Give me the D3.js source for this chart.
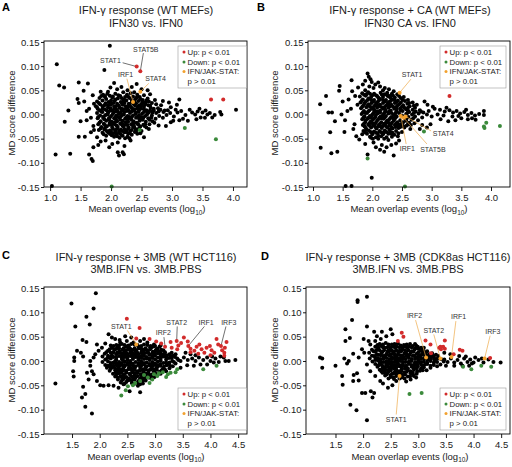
<!DOCTYPE html>
<html><head><meta charset="utf-8">
<script src="https://cdn.jsdelivr.net/npm/d3@7"></script>
<style>body{margin:0;background:#fff}svg{display:block}</style>
</head><body>
<svg id="c" width="512" height="467"></svg>
<script>
// ---------- DATA ----------
const yTicks = [-0.15,-0.10,-0.05,0.00,0.05,0.10,0.15];
const xTicksAB = [1.0,1.5,2.0,2.5,3.0,3.5,4.0];
const xTicksCD = [1.5,2.0,2.5,3.0,3.5,4.0,4.5];
const legendLabels = ["Up: p < 0.01","Down: p < 0.01","IFN/JAK-STAT:","p > 0.01"];
const titlesA = ["IFN-\u03b3 response (WT MEFs)","IFN30 vs. IFN0"];
const titlesB = ["IFN-\u03b3 response + CA (WT MEFs)","IFN30 CA vs. IFN0"];
const titlesC = ["IFN-\u03b3 response + 3MB (WT HCT116)","3MB.IFN vs. 3MB.PBS"];
const titlesD = ["IFN-\u03b3 response + 3MB (CDK8as HCT116)","3MB.IFN vs. 3MB.PBS"];

// Panel A
const blackA = [[1.98,.142],[1.11,.104],[1.89,.092],[1.15,.060],[1.23,.056],[1.47,.066],[1.62,.064],[1.55,.049],[1.45,.032],[1.47,.024],[1.30,.008],[1.24,-.015],[1.09,-.083],[1.33,-.081],[1.47,-.046],[1.57,-.046],[1.71,-.068],[1.64,-.083],[1.68,-.092],[1.70,-.096],[2.11,-.078],[2.19,-.078],[2.21,-.082],[2.13,-.085],[1.03,-.148],
[1.56,.027],[1.70,.040],[1.72,.022],[1.75,.017],[1.78,.012],[1.64,.012],[1.60,.007],[1.67,-.007],[1.60,-.012],[1.50,-.014],[1.71,-.024],[1.67,-.037],[1.72,-.032],[1.77,-.047],[1.83,-.056],[1.79,-.063],[1.91,-.054],[1.97,-.068],[2.02,-.061],[2.11,-.058],[2.22,-.065],[2.32,-.054],[2.30,-.049],[2.43,-.040],[2.54,-.047],
[2.05,.065],[2.17,.057],[1.99,.056],[2.27,.050],[2.34,.057],[2.42,.063],[2.60,.050],[2.64,.042],[1.83,.047],[1.90,.038],[2.10,.052],[2.20,.046],[1.95,.047],[2.50,.052],[2.38,.046],
[3.12,.031],[2.82,.019],[2.98,.015],[3.06,.010],[3.15,.007],[4.05,.010],[3.79,.005],[3.81,0],[3.58,0],[3.54,-.007],[3.29,.010],[3.47,-.006],[3.38,0],[3.22,-.001],[3.33,.004],[3.42,.006],[3.50,.004],[3.62,.003],[3.70,-.001],[3.66,-.006],[3.12,-.012],[3.02,-.013],[2.98,-.016],[3.18,-.009],[3.26,-.013],[2.90,-.024],[2.78,-.023],[3.40,-.010],[3.08,.020],[2.95,.025],[2.88,.008],[3.45,.012],[3.55,.008],[2.72,.030],[2.85,.028],
[1.87,.041],[1.98,.039],[2.07,.043],[2.15,.038],[2.26,.041],[2.36,.037],[2.54,.040],[2.47,.036],
[1.81,.034],[1.92,.032],[2.02,.035],[2.11,.033],[2.21,.031],[2.30,.034],[2.40,.032],[2.52,.030],[2.60,.033],
[1.77,.027],[1.86,.029],[1.96,.026],[2.06,.028],[2.16,.026],[2.25,.029],[2.34,.025],[2.45,.028],[2.57,.025],[2.67,.024],
[1.82,.021],[1.91,.023],[2.00,.020],[2.10,.022],[2.19,.020],[2.29,.022],[2.39,.019],[2.50,.021],[2.61,.019],[2.74,.021],
[1.77,.015],[1.86,.017],[1.95,.015],[2.05,.016],[2.14,.014],[2.24,.017],[2.33,.015],[2.43,.013],[2.54,.016],[2.65,.014],[2.77,.013],
[1.81,.009],[1.90,.011],[1.99,.008],[2.09,.010],[2.18,.009],[2.27,.011],[2.37,.008],[2.47,.010],[2.58,.009],[2.70,.008],[2.81,.010],[2.93,.009],
[1.77,.003],[1.86,.005],[1.95,.003],[2.04,.004],[2.13,.002],[2.22,.005],[2.31,.003],[2.41,.004],[2.51,.002],[2.62,.004],[2.74,.003],[2.86,.005],[2.97,.003],[3.09,.004],
[1.82,-.002],[1.91,-.001],[2.00,-.003],[2.09,-.002],[2.18,-.001],[2.27,-.003],[2.36,-.002],[2.46,-.001],[2.56,-.003],[2.67,-.002],[2.79,-.003],[2.91,-.001],[3.03,-.004],
[1.78,-.008],[1.87,-.007],[1.96,-.009],[2.05,-.008],[2.14,-.007],[2.23,-.009],[2.32,-.008],[2.41,-.007],[2.51,-.009],[2.61,-.008],[2.73,-.009],[2.85,-.007],
[1.83,-.014],[1.92,-.013],[2.01,-.015],[2.10,-.014],[2.19,-.013],[2.28,-.015],[2.37,-.014],[2.47,-.013],[2.57,-.015],[2.68,-.014],
[1.79,-.020],[1.88,-.019],[1.97,-.021],[2.06,-.020],[2.15,-.019],[2.24,-.021],[2.33,-.020],[2.43,-.019],[2.53,-.021],[2.63,-.020],
[1.84,-.026],[1.93,-.025],[2.02,-.027],[2.11,-.026],[2.20,-.025],[2.29,-.027],[2.38,-.026],[2.48,-.025],[2.58,-.027],
[1.80,-.032],[1.89,-.031],[1.98,-.033],[2.07,-.032],[2.16,-.031],[2.25,-.033],[2.34,-.032],[2.44,-.031],
[1.86,-.038],[1.95,-.037],[2.04,-.039],[2.13,-.038],[2.22,-.037],[2.31,-.039],[2.39,-.036],
[1.92,-.044],[2.01,-.043],[2.10,-.045],[2.19,-.044],[2.27,-.046],
[1.95,.019],[2.04,.024],[2.13,.018],[2.22,.024],[2.31,.018],[2.41,.023],[2.49,.017],[1.99,.013],[2.08,.006],[2.17,.012],[2.26,.007],[2.35,.012],[2.45,.006],[2.54,.011],[1.94,.000],[2.03,.001],[2.12,-.005],[2.21,.000],[2.30,-.005],[2.40,.001],[2.50,-.005],[2.59,.000],[1.97,-.011],[2.06,-.016],[2.15,-.011],[2.24,-.016],[2.33,-.011],[2.42,-.017],[2.52,-.011],[2.01,-.022],[2.10,-.029],[2.19,-.023],[2.28,-.029],[2.37,-.023],[2.46,-.029],[2.07,.031],[2.17,.034],[2.34,.030],[2.43,.041],
[1.90,.036],[2.00,.029],[2.12,.040],[2.20,.028],[2.28,.037],[2.38,.027],[2.48,.032],[2.56,.021],[1.86,.012],[1.96,.006],[2.06,.012],[2.16,.004],[2.25,.013],[2.34,.006],[2.44,.016],[2.54,.005],[2.64,.009],[1.88,-.004],[1.98,-.017],[2.08,-.010],[2.18,-.018],[2.27,-.010],[2.36,-.018],[2.46,-.009],[2.56,-.020],[1.90,-.028],[2.00,-.036],[2.09,-.041],[2.18,-.034],[2.28,-.040],[2.40,-.030],[2.50,-.034],[2.66,-.006],[2.78,.006],[2.62,.027]];
const blackA2 = [[1.84,.038],[1.94,.043],[2.03,.037],[2.23,.036],[2.32,.044],[2.42,.035],[2.51,.026],[2.58,.029],[1.80,.024],[1.89,.019],[1.99,.024],[2.08,.017],[2.18,.023],[2.27,.016],[2.37,.022],[2.46,.019],[2.55,.024],[2.64,.018],[2.70,.012],[1.84,.006],[1.93,.008],[2.02,.009],[2.11,.007],[2.20,.011],[2.29,.009],[2.39,.011],[2.49,.013],[2.59,.006],[2.68,.004],[1.79,-.005],[1.89,-.010],[1.98,-.006],[2.07,-.005],[2.16,-.004],[2.25,-.006],[2.34,-.005],[2.44,-.004],[2.53,-.006],[2.63,-.011],[2.71,-.017],[1.81,-.017],[1.90,-.022],[2.00,-.019],[2.09,-.023],[2.18,-.021],[2.27,-.022],[2.36,-.026],[2.45,-.021],[2.55,-.024],[2.62,-.030],[1.83,-.029],[1.93,-.034],[2.03,-.030],[2.13,-.034],[2.22,-.030],[2.31,-.034],[2.41,-.034],[2.48,-.039],[1.88,-.041],[1.98,-.040],[2.07,-.036],[2.16,-.041],[2.25,-.036],[2.34,-.042],[2.05,-.046],[2.14,-.048],[2.23,-.049]];
const upA = [{g:"STAT1",x:2.42,y:.099},{g:"STAT5B",x:2.48,y:.0895},{g:"",x:3.64,y:.031},{g:"",x:3.84,y:.031}];
const downA = [[2.01,-.149],[2.47,-.032],[3.21,-.028],[3.72,-.051]];
const ifnA = [{g:"IRF1",x:2.36,y:.026},{g:"STAT4",x:2.48,y:.047}];

// Panel B
const blackB = [[1.92,.085],[1.94,.078],[1.97,.073],[1.99,.067],[1.65,.071],[1.45,.059],[1.44,.049],[1.22,.038],[1.12,.021],[1.26,.004],[1.32,.004],[1.37,-.014],[1.29,-.037],[1.13,-.069],[1.31,-.080],[1.41,-.077],[1.92,-.083],[1.99,-.131],[1.55,-.148],[1.65,-.148],[2.13,-.073],[2.20,-.077],[2.36,-.085],
[1.50,.027],[1.60,.031],[1.54,-.012],[1.53,-.036],[1.58,.007],[1.48,.000],[1.64,.012],[1.71,.038],[1.66,.048],[1.76,.056],[1.84,.062],[1.73,-.045],[1.78,-.052],[1.83,-.041],[1.88,-.061],[1.68,-.030],[1.70,-.020],[1.75,.020],[1.88,.070],
[2.02,-.058],[2.06,-.068],[2.16,-.063],[2.24,-.068],[2.32,-.063],[2.40,-.060],[2.27,-.053],[2.45,-.054],[2.10,-.050],[1.98,-.048],
[2.88,.027],[2.93,.020],[3.05,.012],[3.14,.010],[3.22,.006],[3.30,.009],[3.36,.004],[3.42,.007],[3.48,.002],[3.55,.005],[3.61,-.001],[3.67,.003],[3.73,-.002],[3.88,.007],[3.88,-.001],[3.74,-.011],[3.61,-.010],[3.50,-.008],[3.40,-.012],[3.28,-.014],[3.15,-.010],[3.20,-.002],[3.10,.000],[3.00,-.004],[2.95,.007],[3.02,.016],[2.84,-.022],[2.92,-.027],[2.98,-.020],[2.80,-.030],[3.35,-.004],[3.58,.010],[3.25,.014],[3.45,-.003],[3.80,.001],[3.68,-.008],
[2.05,.062],[2.13,.058],[2.21,.055],[2.28,.052],[2.36,.048],[2.10,.066],[2.18,.050],[2.02,.055],[1.95,.058],[1.88,.050],[2.25,.045],[2.42,.042],[2.53,.036],[2.60,.030],[2.68,.025],[2.75,.020],[2.32,.040],
[1.83,.044],[1.93,.046],[2.03,.043],[2.14,.045],[2.24,.041],[2.33,.043],
[1.79,.037],[1.89,.039],[1.98,.036],[2.08,.038],[2.18,.036],[2.28,.038],[2.38,.035],[2.48,.034],
[1.84,.031],[1.94,.033],[2.03,.030],[2.13,.032],[2.23,.030],[2.33,.031],[2.43,.029],[2.55,.028],
[1.80,.025],[1.89,.027],[1.99,.024],[2.09,.026],[2.18,.024],[2.28,.026],[2.38,.024],[2.48,.025],[2.59,.022],
[1.85,.019],[1.94,.021],[2.04,.018],[2.13,.020],[2.23,.018],[2.32,.020],[2.42,.018],[2.52,.019],[2.63,.017],[2.72,.014],
[1.81,.013],[1.90,.015],[1.99,.012],[2.08,.014],[2.18,.012],[2.27,.014],[2.37,.012],[2.47,.013],[2.57,.011],[2.68,.010],[2.80,.009],
[1.86,.007],[1.95,.009],[2.04,.006],[2.13,.008],[2.22,.006],[2.31,.008],[2.41,.006],[2.51,.007],[2.62,.005],[2.73,.006],[2.86,.004],
[1.82,.001],[1.91,.003],[2.00,.000],[2.09,.002],[2.18,.000],[2.27,.002],[2.36,.000],[2.45,.003],[2.57,.001],[2.67,.000],[2.78,.002],[2.92,.000],
[1.87,-.004],[1.96,-.003],[2.05,-.005],[2.14,-.004],[2.23,-.003],[2.32,-.005],[2.41,-.004],[2.61,-.005],[2.72,-.004],[2.84,-.006],
[1.83,-.010],[1.92,-.009],[2.01,-.011],[2.10,-.010],[2.19,-.009],[2.28,-.011],[2.37,-.010],[2.47,-.012],[2.56,-.010],[2.66,-.011],[2.77,-.012],
[1.88,-.016],[1.97,-.015],[2.06,-.017],[2.15,-.016],[2.24,-.015],[2.33,-.017],[2.42,-.016],[2.52,-.016],[2.62,-.017],[2.71,-.018],
[1.84,-.022],[1.93,-.021],[2.02,-.023],[2.11,-.022],[2.20,-.021],[2.29,-.023],[2.38,-.022],[2.48,-.021],[2.58,-.023],
[1.89,-.028],[1.98,-.027],[2.07,-.029],[2.16,-.028],[2.25,-.027],[2.34,-.029],[2.44,-.028],[2.54,-.027],[2.64,-.030],
[1.85,-.034],[1.94,-.033],[2.03,-.035],[2.12,-.034],[2.21,-.033],[2.30,-.035],[2.40,-.034],[2.50,-.036],
[1.91,-.040],[2.00,-.041],[2.09,-.039],[2.18,-.041],[2.27,-.040],[2.37,-.042],
[1.96,-.046],[2.06,-.047],[2.15,-.045],[2.24,-.047],[2.33,-.046],
[1.98,.030],[2.08,.020],[2.18,.030],[2.27,.020],[2.37,.030],[2.03,.010],[2.13,.004],[2.22,.010],[2.32,.003],[2.41,.011],[1.97,-.007],[2.06,-.001],[2.15,-.008],[2.25,-.013],[2.34,-.007],[2.44,-.020],[2.01,-.019],[2.10,-.025],[2.20,-.019],[2.29,-.031],[2.39,-.026],
[1.90,.042],[2.00,.040],[2.10,.035],[2.20,.042],[2.30,.035],[1.87,.023],[1.96,.017],[2.06,.024],[2.16,.015],[2.26,.023],[2.35,.016],[2.45,.021],[2.54,.014],[1.88,.003],[1.98,-.004],[2.08,.006],[2.18,-.005],[2.28,.006],[2.38,-.001],[2.50,-.002],[2.60,.008],[1.89,-.012],[1.99,-.017],[2.08,-.013],[2.18,-.024],[2.27,-.017],[2.36,-.013],[2.47,-.026],[2.57,-.013],[1.90,-.031],[2.00,-.038],[2.10,-.044],[2.20,-.037],[2.32,-.040],[2.44,-.039],[2.65,-.022]];
const blackB2 = [[1.86,.041],[1.96,.043],[2.06,.040],[2.16,.041],[2.26,.038],[2.35,.039],[2.45,.038],[1.82,.028],[1.92,.030],[2.01,.027],[2.11,.029],[2.21,.027],[2.31,.028],[2.41,.026],[2.51,.030],[2.62,.024],[1.83,.016],[1.92,.018],[2.01,.015],[2.11,.017],[2.20,.015],[2.30,.017],[2.40,.015],[2.50,.016],[2.60,.014],[2.70,.018],[1.84,.004],[1.93,.006],[2.02,.003],[2.11,.005],[2.20,.003],[2.30,.005],[2.39,.003],[2.48,.009],[2.59,.003],[2.70,.003],[2.82,.006],[1.85,-.007],[1.94,-.006],[2.03,-.008],[2.12,-.007],[2.21,-.006],[2.30,-.008],[2.39,-.007],[2.58,-.008],[2.69,-.008],[1.86,-.019],[1.95,-.018],[2.04,-.020],[2.13,-.019],[2.22,-.018],[2.31,-.020],[2.40,-.019],[2.50,-.018],[2.60,-.020],[1.87,-.025],[1.96,-.024],[2.05,-.026],[2.14,-.025],[2.23,-.024],[2.32,-.026],[2.42,-.025],[2.52,-.024],[1.88,-.037],[1.97,-.036],[2.06,-.038],[2.15,-.037],[2.24,-.036],[2.34,-.038],[2.43,-.045],[2.01,-.050],[2.20,-.050]];
const upB = [{g:"",x:3.30,y:.038}];
const downB = [[1.92,-.091],[2.55,-.149],[2.87,-.035],[3.88,-.025],[3.89,-.028],[3.92,-.017],[4.15,-.024]];
const ifnB = [{g:"STAT1",x:2.46,y:.045},{g:"IRF1",x:2.48,y:-.003},{g:"STAT5B",x:2.53,y:-.007},{g:"STAT4",x:2.56,y:-.004}];

// Panel C
const blackC = [[1.49,.118],[1.93,.139],[1.89,.108],[1.76,.091],[1.82,.075],[1.56,.071],[1.69,.043],[1.76,.039],[1.59,.021],[1.66,.017],[1.70,.009],[1.54,.007],[1.54,.000],[1.52,-.021],[1.53,-.032],[1.20,-.046],[1.70,-.053],[1.74,-.068],[1.68,-.075],[1.74,-.094],[1.86,-.108],
[1.83,-.010],[1.86,-.021],[1.89,-.027],[1.95,-.041],[2.01,-.050],[2.07,-.051],[2.16,-.050],[1.92,.014],[1.98,.021],[2.04,.027],[2.10,.036],[1.95,.034],[1.89,.007],[1.83,.000],[1.77,-.024],[1.80,-.038],[2.25,-.051],[2.34,-.055],[2.43,-.048],[2.54,-.062],[2.73,-.064],[2.69,-.051],
[2.16,.055],[2.22,.048],[2.28,.045],[2.36,.043],[2.46,.051],[2.57,.048],[2.80,.045],[2.37,.038],[2.49,.041],[2.61,.038],[2.73,.041],[2.86,.038],[2.98,.034],[3.10,.032],
[4.45,.002],[4.27,0],[4.18,.009],[4.09,.005],[4.00,0],[3.94,.007],[3.87,.002],[3.79,.007],[3.73,0],[3.67,.005],[3.59,.002],[3.52,.007],[3.46,0],[3.40,.005],[3.34,-.002],[3.82,-.007],[3.70,-.010],[3.58,-.009],[3.46,-.014],[3.94,-.007],[4.06,-.003],[4.15,-.002],[3.64,.014],[3.55,.017],[3.37,.014],[3.28,.010],[3.73,.012],[4.03,.009],[4.24,.007],[4.33,0],
[2.30,.033],[2.40,.035],[2.52,.032],[2.63,.034],[2.75,.031],[2.86,.033],[2.97,.030],[3.08,.029],
[2.22,.027],[2.33,.029],[2.43,.026],[2.53,.028],[2.63,.026],[2.73,.028],[2.83,.026],[2.93,.027],[3.04,.025],[3.15,.022],
[2.15,.021],[2.26,.023],[2.36,.020],[2.46,.022],[2.56,.020],[2.66,.022],[2.76,.020],[2.86,.021],[2.96,.019],[3.06,.020],[3.18,.018],[3.30,.017],
[2.09,.015],[2.20,.017],[2.30,.014],[2.40,.016],[2.50,.014],[2.60,.016],[2.70,.014],[2.80,.015],[2.90,.013],[3.00,.015],[3.10,.013],[3.21,.012],[3.33,.011],
[2.05,.009],[2.15,.011],[2.25,.008],[2.35,.010],[2.45,.008],[2.55,.010],[2.65,.008],[2.75,.010],[2.85,.008],[2.95,.009],[3.05,.007],[3.15,.009],[3.25,.006],[3.36,.008],
[2.10,.003],[2.20,.005],[2.30,.002],[2.40,.004],[2.50,.002],[2.60,.004],[2.70,.002],[2.80,.004],[2.90,.002],[3.00,.003],[3.10,.001],[3.20,.003],[3.31,.000],[3.42,.002],
[2.05,-.002],[2.15,-.001],[2.25,-.003],[2.35,-.002],[2.45,-.001],[2.55,-.003],[2.65,-.002],[2.75,-.001],[2.85,-.003],[2.95,-.002],[3.05,-.001],[3.15,-.004],[3.26,-.003],[3.37,-.005],
[2.10,-.008],[2.20,-.007],[2.30,-.009],[2.40,-.008],[2.50,-.007],[2.60,-.009],[2.70,-.008],[2.80,-.007],[2.90,-.009],[3.00,-.008],[3.10,-.010],[3.21,-.009],[3.32,-.011],
[2.13,-.014],[2.23,-.013],[2.33,-.015],[2.43,-.014],[2.53,-.013],[2.63,-.015],[2.73,-.014],[2.83,-.013],[2.93,-.015],[3.03,-.014],[3.14,-.016],[3.26,-.015],
[2.18,-.020],[2.28,-.019],[2.38,-.021],[2.48,-.020],[2.58,-.019],[2.68,-.021],[2.78,-.020],[2.88,-.019],[2.98,-.021],[3.08,-.022],[3.20,-.021],
[2.24,-.026],[2.34,-.025],[2.44,-.027],[2.54,-.026],[2.64,-.025],[2.74,-.027],[2.84,-.026],[2.94,-.028],[3.05,-.027],
[2.28,-.032],[2.38,-.031],[2.48,-.033],[2.58,-.032],[2.68,-.031],[2.78,-.033],[2.88,-.034],[2.99,-.033],
[2.33,-.038],[2.43,-.037],[2.53,-.039],[2.63,-.038],[2.73,-.037],[2.83,-.040],
[2.38,-.044],[2.48,-.043],[2.58,-.045],[2.68,-.044],[2.78,-.046],
[2.35,.026],[2.45,.019],[2.55,.025],[2.65,.019],[2.75,.025],[2.85,.017],[2.40,.012],[2.50,.006],[2.60,.012],[2.70,.005],[2.80,.011],[2.90,.005],[3.00,.011],[2.35,-.005],[2.45,-.011],[2.55,.000],[2.65,-.011],[2.75,-.004],[2.85,-.011],[2.95,-.005],[3.05,-.011],[2.38,-.017],[2.48,-.024],[2.58,-.016],[2.68,-.024],[2.78,-.017],[2.88,-.024],[2.98,-.017],[2.43,-.030],[2.53,-.036],[2.63,-.029],[2.73,-.035],[2.83,-.029],[2.93,-.036],
[2.20,.032],[2.28,.024],[2.48,.030],[2.58,.022],[2.70,.030],[2.80,.022],[2.92,.031],[3.02,.023],[2.12,.018],[2.22,.012],[2.32,.018],[2.45,.014],[2.55,.017],[2.65,.013],[2.75,.017],[2.95,.016],[3.10,.017],[3.20,.008],[2.14,.006],[2.28,.000],[2.42,.002],[2.60,-.005],[2.70,.008],[2.90,-.006],[3.10,.005],[3.22,-.006],[2.18,-.011],[2.28,-.016],[2.52,-.017],[2.62,-.018],[2.72,-.020],[2.92,-.018],[3.12,-.019],[2.30,-.028],[2.40,-.034],[2.60,-.035],[2.80,-.036],[2.90,-.030],[3.00,-.025],[2.50,-.040],[2.70,-.041]];
const blackC2 = [[2.25,.031],[2.35,.032],[2.45,.033],[2.57,.035],[2.68,.033],[2.80,.034],[2.91,.028],[3.00,.031],[2.18,.024],[2.31,.026],[2.41,.023],[2.51,.024],[2.61,.023],[2.71,.026],[2.81,.024],[2.91,.024],[3.01,.021],[3.11,.023],[2.25,.018],[2.35,.017],[2.48,.017],[2.58,.013],[2.68,.017],[2.78,.012],[2.88,.017],[2.98,.012],[3.05,.016],[3.15,.014],[3.26,.014],[2.20,.008],[2.30,.007],[2.40,.007],[2.50,.010],[2.60,.007],[2.75,.006],[2.85,.005],[2.95,.006],[3.10,.009],[3.20,.011],[3.30,.006],[2.20,-.004],[2.30,-.005],[2.40,-.004],[2.50,-.004],[2.70,-.005],[2.80,-.004],[3.00,-.005],[3.10,-.006],[3.20,-.003],[2.15,-.010],[2.25,-.010],[2.35,-.011],[2.45,-.008],[2.55,-.010],[2.75,-.010],[2.95,-.011],[3.05,-.008],[3.16,-.012],[3.27,-.010],[2.20,-.016],[2.33,-.019],[2.43,-.019],[2.63,-.018],[2.83,-.018],[3.03,-.018],[3.18,-.018],[2.29,-.023],[2.39,-.024],[2.59,-.023],[2.79,-.023],[2.99,-.023],[3.10,-.026],[2.33,-.034],[2.45,-.034],[2.55,-.029],[2.65,-.034],[2.75,-.030],[2.85,-.033],[2.95,-.031],[2.40,-.040],[2.58,-.040],[2.78,-.040],[2.45,-.047],[2.63,-.047],[2.73,-.048]];
const upC = [{g:"",x:2.49,y:.087},{g:"",x:2.72,y:.068},{g:"",x:2.66,y:.046},{g:"",x:2.90,y:.045},{g:"",x:3.02,y:.040},{g:"",x:3.11,y:.036},{g:"IRF2",x:3.18,y:.029},{g:"",x:3.28,y:.039},{g:"",x:3.30,y:.027},{g:"STAT2",x:3.39,y:.041},{g:"",x:3.42,y:.032},{g:"",x:3.47,y:.037},{g:"",x:3.40,y:.024},{g:"",x:3.52,y:.048},{g:"IRF1",x:3.60,y:.031},{g:"",x:3.59,y:.040},{g:"",x:3.64,y:.025},{g:"",x:3.71,y:.021},{g:"",x:3.75,y:.029},{g:"",x:3.80,y:.034},{g:"",x:3.84,y:.024},{g:"",x:3.89,y:.017},{g:"",x:3.93,y:.027},{g:"",x:3.99,y:.031},{g:"",x:4.02,y:.022},{g:"",x:4.07,y:.017},{g:"",x:4.11,y:.045},{g:"",x:4.14,y:.034},{g:"IRF3",x:4.19,y:.031},{g:"",x:4.21,y:.022},{g:"",x:4.25,y:.017},{g:"",x:4.29,y:.039},{g:"",x:4.26,y:.027},{g:"",x:4.25,y:.011},{g:"",x:3.78,y:.015},{g:"",x:4.00,y:.012},{g:"",x:3.64,y:.018}];
const downC = [[2.39,-.071],[2.51,-.052],[2.47,-.060],[2.64,-.045],[2.73,-.041],[2.80,-.029],[2.87,-.034],[2.90,-.045],[2.98,-.027],[3.04,-.031],[3.07,-.025],[3.14,-.023],[3.23,-.027],[3.28,-.024],[3.37,-.023],[3.40,-.017],[3.87,-.017],[4.11,-.010],[2.60,-.050],[2.95,-.038],[3.20,-.033]];
const ifnC = [{g:"STAT1",x:2.66,y:.034}];

// Panel D
const blackD = [[1.90,.125],[1.90,.121],[2.07,.132],[1.80,.084],[1.68,.065],[1.76,.047],[1.68,.041],[2.07,.071],[2.20,.060],[2.25,.051],[1.22,.007],[1.26,.005],[1.26,-.014],[1.50,-.010],[1.66,.005],[1.74,.000],[1.82,.015],[1.62,-.031],[1.63,-.049],[1.98,-.066],[2.04,-.066],[2.14,-.062],[2.20,-.066],[2.17,-.075],[1.77,-.090],[1.88,-.101],[2.07,-.122],
[1.83,-.029],[1.82,-.041],[1.89,-.025],[1.92,-.040],[1.71,-.005],[1.98,.024],[2.02,.017],[1.92,.007],[2.07,-.007],[2.13,-.021],[2.22,-.031],[2.31,-.041],[2.36,-.046],[2.45,-.055],[2.53,-.050],[2.13,.034],[2.22,.041],[2.32,.045],[2.42,.051],[2.50,.065],[2.53,.055],[2.34,.060],[2.01,.045],[2.10,.041],
[4.49,-.003],[4.36,-.002],[4.27,.003],[4.18,-.003],[4.09,.002],[4.00,-.003],[3.94,.003],[3.89,-.002],[3.83,.005],[3.77,-.005],[3.71,.002],[3.65,-.003],[3.59,.005],[3.53,-.002],[3.47,.003],[3.74,.010],[3.86,.009],[4.03,.007],[4.15,.005],[3.65,-.010],[3.50,-.010],[3.92,-.010],[3.97,-.005],[3.80,-.010],[3.58,.014],[3.47,.017],
[2.30,.035],[2.41,.037],[2.52,.034],[2.63,.036],[2.74,.033],[2.85,.035],[2.96,.032],
[2.22,.029],[2.33,.031],[2.44,.028],[2.55,.030],[2.66,.028],[2.77,.030],[2.88,.028],[2.99,.029],[3.10,.027],
[2.16,.023],[2.27,.025],[2.38,.022],[2.49,.024],[2.60,.022],[2.71,.024],[2.82,.022],[2.93,.023],[3.04,.021],[3.16,.020],
[2.11,.017],[2.22,.019],[2.33,.016],[2.44,.018],[2.54,.016],[2.64,.018],[2.75,.016],[2.86,.017],[2.97,.015],[3.08,.016],[3.20,.014],[3.32,.013],
[2.16,.011],[2.27,.013],[2.37,.010],[2.47,.012],[2.58,.010],[2.68,.012],[2.79,.010],[2.90,.011],[3.01,.009],[3.12,.011],[3.24,.009],[3.36,.010],
[2.12,.005],[2.22,.007],[2.32,.004],[2.42,.006],[2.52,.004],[2.62,.006],[2.72,.004],[2.83,.006],[2.94,.004],[3.05,.005],[3.17,.003],[3.29,.005],[3.41,.004],
[2.17,-.001],[2.27,.001],[2.37,-.002],[2.47,.000],[2.57,-.002],[2.67,.000],[2.77,-.002],[2.88,.000],[2.99,-.002],[3.10,-.001],[3.22,.000],[3.34,-.002],[3.46,-.001],
[2.22,-.006],[2.32,-.005],[2.42,-.007],[2.52,-.006],[2.62,-.005],[2.72,-.007],[2.83,-.006],[2.94,-.005],[3.05,-.007],[3.16,-.006],[3.28,-.008],[3.40,-.007],
[2.26,-.012],[2.36,-.011],[2.46,-.013],[2.56,-.012],[2.66,-.011],[2.77,-.013],[2.88,-.012],[2.99,-.011],[3.10,-.013],[3.22,-.014],
[2.30,-.018],[2.40,-.017],[2.50,-.019],[2.60,-.018],[2.70,-.017],[2.81,-.019],[2.92,-.018],[3.03,-.020],[3.15,-.019],
[2.35,-.024],[2.45,-.023],[2.55,-.025],[2.65,-.024],[2.75,-.023],[2.86,-.025],[2.97,-.026],
[2.40,-.030],[2.50,-.029],[2.60,-.031],[2.71,-.030],[2.81,-.032],[2.92,-.031],
[2.46,-.036],[2.56,-.037],[2.75,-.036],[2.86,-.038],
[2.36,.028],[2.47,.020],[2.58,.027],[2.69,.020],[2.80,.027],[2.91,.019],[2.42,.014],[2.52,.008],[2.63,.014],[2.73,.008],[2.84,.013],[2.95,.007],[3.06,.013],[2.42,-.003],[2.52,-.009],[2.62,.002],[2.72,-.009],[2.83,-.003],[2.93,-.009],[3.04,-.003],[2.45,-.020],[2.55,-.015],[2.65,-.021],[2.76,-.015],[2.86,-.021],[2.97,-.015],
[2.26,.033],[2.36,.034],[2.58,.032],[2.68,.032],[2.90,.031],[3.00,.025],[2.19,.020],[2.30,.022],[2.52,.022],[2.76,.022],[3.10,.020],[2.20,.010],[2.32,.012],[2.57,.014],[2.68,.006],[2.79,.014],[3.00,.013],[3.20,.008],[2.22,.002],[2.32,-.001],[2.47,-.005],[2.57,.006],[2.77,.004],[2.88,-.008],[3.00,.002],[3.15,.004],[3.30,.001],[2.28,-.009],[2.40,-.013],[2.60,-.009],[2.70,-.014],[2.92,-.013],[3.08,-.010],[2.33,-.021],[2.40,-.025],[2.60,-.026],[2.70,-.027],[2.90,-.024],[2.50,-.033],[2.66,-.036],[2.96,-.034]];
const blackD2 = [[2.35,.032],[2.46,.034],[2.57,.035],[2.79,.034],[2.94,.035],[3.05,.027],[2.28,.027],[2.39,.027],[2.50,.028],[2.61,.029],[2.72,.028],[2.83,.029],[2.95,.026],[3.08,.023],[2.24,.022],[2.35,.019],[2.45,.021],[2.56,.019],[2.66,.021],[2.78,.019],[2.88,.020],[3.00,.018],[3.13,.017],[3.25,.016],[2.25,.014],[2.40,.010],[2.50,.014],[2.61,.010],[2.72,.011],[2.82,.009],[2.93,.011],[3.04,.010],[3.16,.012],[3.28,.010],[2.27,.006],[2.37,.005],[2.47,.004],[2.58,.003],[2.67,.004],[2.88,.004],[2.99,.006],[3.10,.005],[3.23,.004],[3.35,.005],[2.30,-.004],[2.42,-.001],[2.52,-.002],[2.62,-.003],[2.72,-.002],[2.83,-.001],[2.94,-.003],[3.05,-.002],[3.16,-.003],[3.28,-.003],[2.34,-.009],[2.45,-.010],[2.56,-.008],[2.66,-.008],[2.78,-.010],[2.98,-.007],[3.12,-.007],[3.22,-.010],[3.34,-.011],[2.35,-.015],[2.50,-.014],[2.60,-.013],[2.81,-.015],[2.92,-.015],[3.05,-.015],[2.38,-.021],[2.48,-.020],[2.58,-.021],[2.69,-.021],[2.79,-.022],[2.98,-.021],[3.08,-.019],[2.43,-.027],[2.53,-.026],[2.63,-.028],[2.76,-.028],[2.90,-.028],[2.55,-.034],[2.70,-.034],[2.85,-.032],[2.60,-.041],[2.78,-.042]];
const upD = [{g:"",x:2.70,y:.058},{g:"",x:2.73,y:.050},{g:"",x:2.63,y:.041},{g:"",x:3.13,y:.042},{g:"",x:3.22,y:.034},{g:"",x:3.23,y:.016},{g:"",x:3.38,y:.027},{g:"",x:3.41,y:.024},{g:"",x:3.40,y:.029},{g:"",x:3.45,y:.029},{g:"",x:3.48,y:.042},{g:"",x:3.48,y:.025},{g:"",x:3.64,y:.014},{g:"",x:3.75,y:.023},{g:"",x:3.80,y:.021},{g:"",x:4.30,y:.006}];
const downD = [[2.84,-.068],[3.06,-.066],[3.81,-.012],[3.96,-.017],[4.14,-.010],[4.32,-.012]];
const ifnD = [{g:"IRF2",x:3.14,y:.007},{g:"STAT2",x:3.40,y:.005},{g:"IRF1",x:3.60,y:.008},{g:"IRF3",x:4.20,y:.005},{g:"STAT1",x:2.66,y:-.031}];

// ---------- LAYOUT (positions / styles, not data) ----------
const FONT = '"Liberation Sans", Arial, Helvetica, sans-serif';
const COL = {black:"#000", up:"#d22b2b", down:"#3b8a3b", ifn:"#f2a12e", dark:"#333"};
const annA = [{g:"STAT5B",tx:2.57,ty:.130,a:"middle",lx:2.53,ly:.127,c:"dark"},{g:"STAT1",tx:2.16,ty:.106,a:"end",lx:2.19,ly:.107,c:"dark"},{g:"IRF1",tx:2.24,ty:.078,a:"middle",lx:2.26,ly:.074,c:"ifn"},{g:"STAT4",tx:2.73,ty:.0687,a:"middle",lx:2.62,ly:.0645,c:"ifn"}];
const annB = [{g:"STAT1",tx:2.67,ty:.0776,a:"middle",lx:2.65,ly:.073,c:"ifn"},{g:"STAT4",tx:3.02,ty:-.0445,a:"start",lx:2.99,ly:-.034,c:"ifn"},{g:"IRF1",tx:2.59,ty:-.0755,a:"middle",lx:2.57,ly:-.061,c:"ifn"},{g:"STAT5B",tx:3.02,ty:-.0776,a:"middle",lx:2.92,ly:-.061,c:"ifn"}];
const annC = [{g:"STAT1",tx:2.39,ty:.0658,a:"middle",lx:2.50,ly:.0627,c:"ifn"},{g:"IRF2",tx:3.15,ty:.0534,a:"middle",lx:3.16,ly:.049,c:"dark"},{g:"STAT2",tx:3.39,ty:.0746,a:"middle",lx:3.40,ly:.071,c:"dark"},{g:"IRF1",tx:3.92,ty:.0746,a:"middle",lx:3.89,ly:.071,c:"dark"},{g:"IRF3",tx:4.33,ty:.0746,a:"middle",lx:4.28,ly:.071,c:"dark"}];
const annD = [{g:"IRF2",tx:2.93,ty:.0884,a:"middle",lx:2.95,ly:.084,c:"ifn"},{g:"STAT2",tx:3.28,ty:.0582,a:"middle",lx:3.28,ly:.0545,c:"ifn"},{g:"IRF1",tx:3.73,ty:.0863,a:"middle",lx:3.68,ly:.082,c:"ifn"},{g:"IRF3",tx:4.35,ty:.0561,a:"middle",lx:4.30,ly:.052,c:"ifn"},{g:"STAT1",tx:2.60,ty:-.125,a:"middle",lx:2.60,ly:-.110,c:"ifn"}];

const panels = [
 {letter:"A",titles:titlesA,black:blackA.concat(blackA2),up:upA,down:downA,ifn:ifnA,ann:annA,xTicks:xTicksAB,
  L:44,R:247,T:41,B:187,xDom:[0.90,4.23],tX:146,tY:[14,27],let:[2,11],yl:[15,113],xl:[147,212],leg:[178,46,68.5,42]},
 {letter:"B",titles:titlesB,black:blackB.concat(blackB2),up:upB,down:downB,ifn:ifnB,ann:annB,xTicks:xTicksAB,
  L:308,R:510,T:41,B:187,xDom:[0.916,4.32],tX:410,tY:[14,27],let:[257,11],yl:[278,113],xl:[409,212],leg:[440,46,66,42]},
 {letter:"C",titles:titlesC,black:blackC.concat(blackC2),up:upC,down:downC,ifn:ifnC,ann:annC,xTicks:xTicksCD,
  L:44,R:247,T:287,B:434,xDom:[0.994,4.66],tX:146,tY:[260.5,273],let:[2,259],yl:[15,360],xl:[146,459.5],leg:[178,388,68.5,42]},
 {letter:"D",titles:titlesD,black:blackD.concat(blackD2),up:upD,down:downD,ifn:ifnD,ann:annD,xTicks:xTicksCD,
  L:306,R:510,T:287,B:434,xDom:[0.966,4.66],tX:408,tY:[260.5,273],let:[261,260],yl:[278,360],xl:[410,459.5],leg:[440,388,66,42]}
];

const svg = d3.select("#c");
svg.append("rect").attr("width",512).attr("height",467).attr("fill","#fff");

function drawPanel(p){
  const x = d3.scaleLinear().domain(p.xDom).range([p.L,p.R]);
  const y = d3.scaleLinear().domain([-0.15,0.152]).range([p.B,p.T]);
  const g = svg.append("g").attr("font-family",FONT);

  g.append("text").attr("x",p.let[0]).attr("y",p.let[1]).attr("font-size",11).attr("font-weight","bold").attr("fill","#000").text(p.letter);
  p.titles.forEach((t,i)=>g.append("text").attr("x",p.tX).attr("y",p.tY[i]).attr("text-anchor","middle").attr("font-size",11).attr("fill","#1a1a1a").text(t));

  const xa = d3.axisBottom(x).tickValues(p.xTicks).tickSize(4).tickPadding(3).tickFormat(d=>d.toFixed(1));
  const ya = d3.axisLeft(y).tickValues(yTicks).tickSize(3).tickPadding(1.5).tickFormat(d=>Math.abs(d)<1e-9?"0.00":d.toFixed(2));
  const styleAxis = s=>{s.attr("font-family",FONT).attr("font-size",9.5);s.select(".domain").remove();s.selectAll("line").attr("stroke","#000").attr("stroke-width",0.9);s.selectAll("text").attr("fill","#1a1a1a");};
  g.append("g").attr("transform",`translate(0,${p.B})`).call(xa).call(styleAxis);
  g.append("g").attr("transform",`translate(${p.L},0)`).call(ya).call(styleAxis);

  g.append("text").attr("transform",`translate(${p.yl[0]},${p.yl[1]}) rotate(-90)`).attr("text-anchor","middle").attr("font-size",9.5).attr("fill","#1a1a1a").text("MD score difference");
  const xt = g.append("text").attr("x",p.xl[0]).attr("y",p.xl[1]).attr("text-anchor","middle").attr("font-size",9.5).attr("fill","#1a1a1a");
  xt.append("tspan").text("Mean overlap events (log");
  xt.append("tspan").attr("font-size",6.5).attr("dy",2.5).text("10");
  xt.append("tspan").attr("dy",-2.5).text(")");

  const r = 2.0;
  g.append("g").selectAll("circle").data(p.black).join("circle").attr("cx",d=>x(d[0])).attr("cy",d=>y(d[1])).attr("r",r).attr("fill",COL.black);

  const all = p.up.concat(p.ifn);
  const find = name => all.find(d=>d.g===name);
  g.append("g").selectAll("line").data(p.ann).join("line")
    .attr("x1",d=>x(d.lx)).attr("y1",d=>y(d.ly))
    .attr("x2",d=>x(find(d.g).x)).attr("y2",d=>y(find(d.g).y))
    .attr("stroke",d=>d.c==="ifn"?"#eeaa4a":"#333").attr("stroke-width",0.7);

  g.append("g").selectAll("circle").data(p.up).join("circle").attr("cx",d=>x(d.x)).attr("cy",d=>y(d.y)).attr("r",r).attr("fill",COL.up);
  g.append("g").selectAll("circle").data(p.down).join("circle").attr("cx",d=>x(d[0])).attr("cy",d=>y(d[1])).attr("r",r).attr("fill",COL.down);
  g.append("g").selectAll("circle").data(p.ifn).join("circle").attr("cx",d=>x(d.x)).attr("cy",d=>y(d.y)).attr("r",r).attr("fill",COL.ifn);

  g.append("g").selectAll("text").data(p.ann).join("text")
    .attr("x",d=>x(d.tx)).attr("y",d=>y(d.ty)).attr("text-anchor",d=>d.a)
    .attr("font-size",7).attr("fill","#333").text(d=>d.g);

  g.append("rect").attr("x",p.L).attr("y",p.T).attr("width",p.R-p.L).attr("height",p.B-p.T).attr("fill","none").attr("stroke","#000").attr("stroke-width",0.9);

  const [lx,ly,lw,lh] = p.leg;
  const lg = g.append("g");
  lg.append("rect").attr("x",lx).attr("y",ly).attr("width",lw).attr("height",lh).attr("fill","#fff").attr("stroke","#999").attr("stroke-width",0.6);
  const rowY = [8.5,18.5,28,37.5];
  const rowC = [COL.up,COL.down,COL.ifn,null];
  legendLabels.forEach((t,i)=>{
    if(rowC[i]) lg.append("circle").attr("cx",lx+6).attr("cy",ly+rowY[i]-2.6).attr("r",1.5).attr("fill",rowC[i]);
    lg.append("text").attr("x",lx+9.5).attr("y",ly+rowY[i]).attr("font-size",7.8).attr("fill","#1a1a1a").text(t);
  });
}
panels.forEach(drawPanel);
</script>
</body></html>
